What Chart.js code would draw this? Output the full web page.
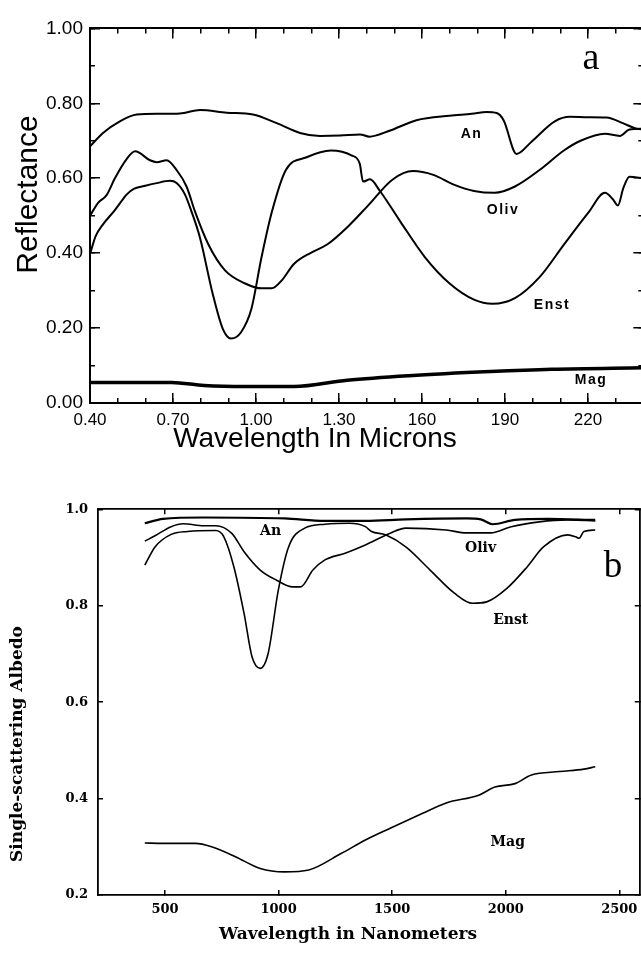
<!DOCTYPE html>
<html><head><meta charset="utf-8">
<script src="https://cdn.jsdelivr.net/npm/chart.js@4"></script>
<style>
html,body{margin:0;padding:0;background:#fff;overflow:hidden}
#wrap{position:relative;width:641px;height:962px;overflow:hidden;background:#fff}
#wrap canvas{position:absolute;left:0}
</style></head><body>
<div id="wrap">
<canvas id="ca" width="650" height="480" style="top:0"></canvas>
<canvas id="cb" width="650" height="482" style="top:480px"></canvas>
</div>
<script>
// ---------- Panel a: reflectance vs wavelength (microns) ----------
const anA_wl = [0.40,0.447,0.508,0.569,0.65,0.725,0.798,0.894,0.989,1.075,1.159,1.231,1.304,1.376,1.41,1.48,1.58,1.70,1.78,1.834,1.87,1.895,1.942,1.995,2.08,2.135,2.20,2.267,2.326,2.376,2.40];
const anA_r  = [0.685,0.721,0.752,0.770,0.772,0.773,0.782,0.775,0.770,0.747,0.721,0.713,0.714,0.717,0.711,0.726,0.755,0.767,0.772,0.777,0.774,0.755,0.665,0.697,0.752,0.764,0.763,0.762,0.747,0.732,0.730];
const olivA_wl = [0.40,0.43,0.46,0.49,0.533,0.563,0.617,0.641,0.677,0.713,0.749,0.78,0.828,0.888,0.961,1.02,1.057,1.094,1.137,1.198,1.257,1.331,1.405,1.493,1.567,1.641,1.715,1.788,1.863,1.936,2.025,2.113,2.173,2.261,2.315,2.35,2.40];
const olivA_r  = [0.50,0.535,0.555,0.60,0.652,0.672,0.648,0.643,0.648,0.622,0.578,0.510,0.423,0.354,0.319,0.306,0.306,0.328,0.371,0.401,0.423,0.47,0.527,0.596,0.619,0.609,0.583,0.566,0.561,0.578,0.622,0.674,0.70,0.719,0.713,0.730,0.732];
const enstA_wl = [0.40,0.42,0.445,0.49,0.52,0.533,0.56,0.60,0.641,0.689,0.713,0.743,0.765,0.798,0.843,0.88,0.91,0.946,0.983,1.02,1.057,1.108,1.183,1.271,1.345,1.375,1.387,1.412,1.448,1.523,1.611,1.70,1.788,1.855,1.936,2.025,2.113,2.202,2.261,2.29,2.308,2.328,2.35,2.40];
const enstA_r  = [0.397,0.445,0.475,0.515,0.545,0.557,0.572,0.580,0.587,0.593,0.587,0.557,0.515,0.44,0.293,0.198,0.172,0.189,0.250,0.389,0.509,0.622,0.656,0.674,0.661,0.639,0.591,0.597,0.566,0.483,0.389,0.319,0.276,0.265,0.28,0.336,0.423,0.509,0.561,0.544,0.527,0.574,0.604,0.60];
const magA_wl = [0.40,0.695,0.812,0.96,1.137,1.33,1.552,1.848,2.07,2.40];
const magA_r  = [0.055,0.055,0.047,0.044,0.044,0.061,0.073,0.084,0.09,0.094];

const xMajorA = [0.4,0.7,1.0,1.3,1.6,1.9,2.2];
const xLabelsA = ['0.40','0.70','1.00','1.30','160','190','220'];
const xMinorA = [0.4,0.5,0.6,0.7,0.8,0.9,1.0,1.1,1.2,1.3,1.4,1.5,1.6,1.7,1.8,1.9,2.0,2.1,2.2,2.3,2.4];
const yMajorA = [0,0.2,0.4,0.6,0.8,1.0];
const yLabelsA = ['0.00','0.20','0.40','0.60','0.80','1.00'];
const yMinorA = [0,0.1,0.2,0.3,0.4,0.5,0.6,0.7,0.8,0.9,1.0];

// ---------- Panel b: single-scattering albedo vs wavelength (nm) ----------
const anB_wl = [411,491,670,1026,1204,1382,1560,1827,1890,1943,2041,2184,2394];
const anB_w  = [0.971,0.980,0.983,0.981,0.976,0.976,0.979,0.981,0.979,0.969,0.978,0.980,0.978];
const olivB_wl = [411,456,527,580,670,723,794,848,919,991,1062,1097,1151,1204,1293,1382,1489,1560,1738,1827,1934,2024,2148,2273,2394];
const olivB_w  = [0.934,0.945,0.964,0.970,0.966,0.966,0.950,0.912,0.874,0.853,0.839,0.839,0.874,0.895,0.909,0.926,0.950,0.961,0.957,0.951,0.951,0.964,0.974,0.978,0.976];
const enstB_wl = [411,456,527,599,723,759,803,848,883,919,954,999,1044,1115,1204,1311,1382,1409,1471,1560,1667,1774,1854,1916,2005,2095,2166,2273,2308,2323,2344,2394];
const enstB_w  = [0.884,0.922,0.948,0.954,0.956,0.943,0.881,0.784,0.694,0.670,0.701,0.833,0.922,0.961,0.969,0.971,0.964,0.954,0.947,0.922,0.874,0.826,0.805,0.808,0.836,0.881,0.922,0.947,0.943,0.940,0.954,0.957];
const magB_wl = [411,491,634,705,812,919,1026,1133,1275,1382,1489,1632,1738,1881,1952,2041,2113,2237,2344,2394];
const magB_w  = [0.308,0.307,0.307,0.300,0.279,0.255,0.248,0.252,0.286,0.314,0.338,0.369,0.391,0.407,0.424,0.431,0.449,0.456,0.461,0.466];

const xMajorB = [500,1000,1500,2000,2500];
const xLabelsB = ['500','1000','1500','2000','2500'];
const yMajorB = [0.2,0.4,0.6,0.8,1.0];
const yLabelsB = ['0.2','0.4','0.6','0.8','1.0'];

const seriesNames = ['An','Oliv','Enst','Mag'];

// ---------- helpers ----------
const toXY = (xs, ys) => xs.map((x, i) => ({x: x, y: ys[i]}));

function mkAxis(pos, min, max, vals, o) {
  const horiz = pos === 'top' || pos === 'bottom';
  return {
    type: 'linear', position: pos, min: min, max: max, weight: o.weight || 0,
    afterBuildTicks: s => { s.ticks = vals.map(v => ({value: v})); },
    afterFit: s => { if (horiz) s.height = o.size || 0; else s.width = o.size || 0; },
    grid: { display: true, drawOnChartArea: false, drawTicks: true, tickLength: -o.len,
            lineWidth: o.tw, tickWidth: o.tw, color: '#000', tickColor: '#000' },
    border: { display: !!o.border, color: '#000', width: o.bw || 1.5 },
    ticks: o.labels ? { display: true, autoSkip: false, maxRotation: 0, minRotation: 0,
            padding: o.pad, color: '#000', font: o.font, callback: (v, i) => o.labels[i] }
          : { display: false },
    title: { display: false }
  };
}

const textPlugin = {
  id: 'texts',
  afterDraw(chart, args, opts) {
    const ctx = chart.ctx;
    (opts.items || []).forEach(it => {
      ctx.save();
      ctx.font = it.font;
      ctx.fillStyle = '#000';
      ctx.textAlign = 'center';
      ctx.textBaseline = 'middle';
      if (it.ls) ctx.letterSpacing = it.ls;
      let x = it.x, y = it.y;
      if (it.data) { x = chart.scales.x.getPixelForValue(it.x); y = chart.scales.y.getPixelForValue(it.y); }
      ctx.translate(x, y);
      if (it.rot) ctx.rotate(it.rot);
      ctx.fillText(it.text, 0, 0);
      ctx.restore();
    });
  }
};

function ds(label, xs, ys, w) {
  return { label: label, data: toXY(xs, ys), borderColor: '#000', backgroundColor: '#000',
           borderWidth: w, pointRadius: 0, fill: false, tension: 0, cubicInterpolationMode: 'monotone' };
}

// ---------- Chart a ----------
const fontAx = {family: '"Liberation Sans", Arial, sans-serif', size: 17};
const fontAy = {family: '"Liberation Sans", Arial, sans-serif', size: 19};
const labFontA = 'bold 14px "Liberation Sans", Arial, sans-serif';
const labPosA = [[1.779,0.7186],[1.893,0.5136],[2.07,0.262],[2.211,0.0597]];

new Chart(document.getElementById('ca'), {
  type: 'line',
  data: { datasets: [
    ds(seriesNames[0], anA_wl, anA_r, 2),
    ds(seriesNames[1], olivA_wl, olivA_r, 2),
    ds(seriesNames[2], enstA_wl, enstA_r, 2),
    ds(seriesNames[3], magA_wl, magA_r, 3.5)
  ]},
  options: {
    responsive: false, animation: false, events: [],
    layout: { padding: { left: 0, top: 17.5, right: 6.7, bottom: 17 } },
    scales: {
      x: mkAxis('bottom', 0.4, 2.4, xMajorA, {len: 10, tw: 1.5, border: true, bw: 2, size: 60, weight: 1, labels: xLabelsA, pad: 16.8, font: fontAx}),
      xMin: mkAxis('bottom', 0.4, 2.4, xMinorA, {len: 5, tw: 1.5, weight: 0}),
      xTop: mkAxis('top', 0.4, 2.4, xMajorA, {len: 10, tw: 1.5, border: true, bw: 2}),
      xTopMin: mkAxis('top', 0.4, 2.4, xMinorA, {len: 5, tw: 1.5}),
      y: mkAxis('left', 0, 1, yMajorA, {len: 10, tw: 1.5, border: true, bw: 2, size: 90, weight: 1, labels: yLabelsA, pad: 17, font: fontAy}),
      yMin: mkAxis('left', 0, 1, yMinorA, {len: 5, tw: 1.5, weight: 0}),
      yR: mkAxis('right', 0, 1, yMajorA, {len: 10, tw: 1.5, border: true, bw: 2}),
      yRMin: mkAxis('right', 0, 1, yMinorA, {len: 5, tw: 1.5})
    },
    plugins: {
      legend: {display: false}, tooltip: {enabled: false}, title: {display: false},
      texts: { items: [
        {text: 'Reflectance', x: 28.5, y: 194.5, rot: -Math.PI/2, font: '30px "Liberation Sans", Arial, sans-serif'},
        {text: 'Wavelength In Microns', x: 315, y: 439, font: '28px "Liberation Sans", Arial, sans-serif'},
        {text: 'a', data: true, x: 2.211, y: 0.918, font: '38px "Liberation Serif", serif'},
        ...seriesNames.map((n, i) => ({text: n, data: true, x: labPosA[i][0], y: labPosA[i][1], font: labFontA, ls: '1.5px'}))
      ]}
    }
  },
  plugins: [textPlugin]
});

// ---------- Chart b ----------
const fontB = {family: '"DejaVu Serif", serif', size: 13, weight: 'bold'};
const labFontB = 'bold 14px "DejaVu Serif", serif';
const labPosB = [[965,0.9535],[1889,0.9187],[2022,0.770],[2009,0.3085]];

new Chart(document.getElementById('cb'), {
  type: 'line',
  data: { datasets: [
    ds(seriesNames[0], anB_wl, anB_w, 2.2),
    ds(seriesNames[1], olivB_wl, olivB_w, 1.6),
    ds(seriesNames[2], enstB_wl, enstB_w, 1.6),
    ds(seriesNames[3], magB_wl, magB_w, 1.6)
  ]},
  options: {
    responsive: false, animation: false, events: [],
    layout: { padding: { left: 0, top: 29.3, right: 6, bottom: 27 } },
    scales: {
      x: mkAxis('bottom', 205, 2590, xMajorB, {len: 5, tw: 1.5, border: true, bw: 1.8, size: 40, weight: 1, labels: xLabelsB, pad: 12.2, font: fontB}),
      xTop: mkAxis('top', 205, 2590, xMajorB, {len: 5, tw: 1.5, border: true, bw: 1.8}),
      y: mkAxis('left', 0.2, 1.0, yMajorB, {len: 5, tw: 1.5, border: true, bw: 1.8, size: 98, weight: 1, labels: yLabelsB, pad: 15, font: fontB}),
      yR: mkAxis('right', 0.2, 1.0, yMajorB, {len: 5, tw: 1.5, border: true, bw: 1.8})
    },
    plugins: {
      legend: {display: false}, tooltip: {enabled: false}, title: {display: false},
      texts: { items: [
        {text: 'Single-scattering Albedo', x: 18, y: 264, rot: -Math.PI/2, font: 'bold 17px "DejaVu Serif", serif'},
        {text: 'Wavelength in Nanometers', x: 348, y: 455, font: 'bold 17px "DejaVu Serif", serif'},
        {text: 'b', data: true, x: 2472, y: 0.879, font: '37px "Liberation Serif", serif'},
        ...seriesNames.map((n, i) => ({text: n, data: true, x: labPosB[i][0], y: labPosB[i][1], font: labFontB}))
      ]}
    }
  },
  plugins: [textPlugin]
});
</script>
</body></html>
